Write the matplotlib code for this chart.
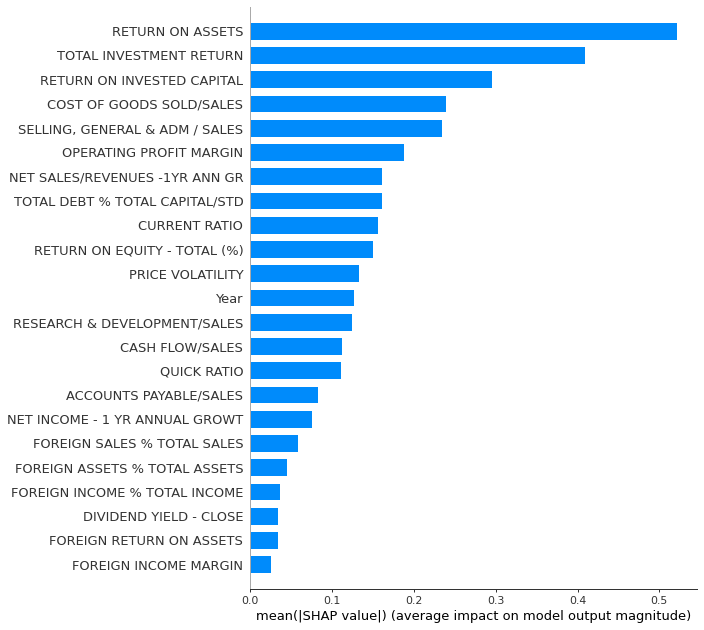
import matplotlib.pyplot as plt

features = [
    "RETURN ON ASSETS",
    "TOTAL INVESTMENT RETURN",
    "RETURN ON INVESTED CAPITAL",
    "COST OF GOODS SOLD/SALES",
    "SELLING, GENERAL & ADM / SALES",
    "OPERATING PROFIT MARGIN",
    "NET SALES/REVENUES -1YR ANN GR",
    "TOTAL DEBT % TOTAL CAPITAL/STD",
    "CURRENT RATIO",
    "RETURN ON EQUITY - TOTAL (%)",
    "PRICE VOLATILITY",
    "Year",
    "RESEARCH & DEVELOPMENT/SALES",
    "CASH FLOW/SALES",
    "QUICK RATIO",
    "ACCOUNTS PAYABLE/SALES",
    "NET INCOME - 1 YR ANNUAL GROWT",
    "FOREIGN SALES % TOTAL SALES",
    "FOREIGN ASSETS % TOTAL ASSETS",
    "FOREIGN INCOME % TOTAL INCOME",
    "DIVIDEND YIELD - CLOSE",
    "FOREIGN RETURN ON ASSETS",
    "FOREIGN INCOME MARGIN",
]
mean_shap = [
    0.521, 0.4095, 0.2955, 0.2395, 0.2346, 0.188, 0.161, 0.161, 0.1565,
    0.150, 0.133, 0.127, 0.1247, 0.112, 0.111, 0.0827, 0.0754, 0.0583,
    0.0449, 0.0363, 0.0338, 0.0338, 0.0253,
]

# reference was rendered at 72 dpi, so scale point sizes by 0.72
fig = plt.figure(figsize=(7.04, 6.3), dpi=100)
ax = fig.add_axes([0.3555, 0.0651, 0.6345, 0.9238])

y_pos = list(range(len(features)))
ax.barh(y_pos, mean_shap, height=0.7, color="#008bfb")
ax.set_yticks(y_pos)
ax.set_yticklabels(features, fontsize=9.36, color="#333333")
ax.set_ylim(len(features), -1)
ax.set_xlim(0, 0.546)

ax.spines["right"].set_visible(False)
ax.spines["top"].set_visible(False)
ax.spines["left"].set_color("#aaaaaa")
ax.spines["left"].set_linewidth(0.72)
ax.spines["bottom"].set_color("#333333")
ax.spines["bottom"].set_linewidth(0.72)
ax.tick_params(axis="y", length=0, pad=5)
ax.tick_params(axis="x", labelsize=7.92, colors="#333333",
               length=2.5, width=0.72, pad=2.5)
ax.set_xlabel("mean(|SHAP value|) (average impact on model output magnitude)",
              fontsize=9.36, color="#000000", labelpad=2.9)

plt.savefig("out.png")
